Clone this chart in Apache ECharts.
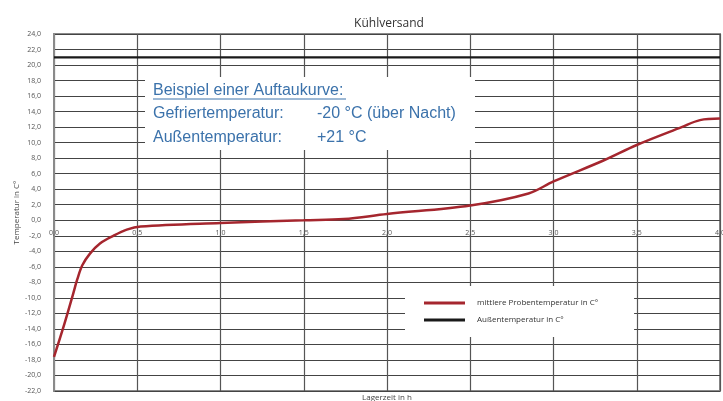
<!DOCTYPE html>
<html>
<head>
<meta charset="utf-8">
<script src="https://cdn.jsdelivr.net/npm/echarts@6/dist/echarts.min.js"></script>
<style>html,body{margin:0;padding:0;background:#fff}#c{width:723px;height:401px}</style>
</head>
<body>
<div id="c"></div>
<script>
// time in h
const probeTime = [0, 0.056, 0.112, 0.14, 0.17, 0.216, 0.276, 0.356, 0.437, 0.52, 1.0, 1.5, 1.74, 2.0, 2.5, 2.85, 3.0, 3.3, 3.5, 3.77, 3.88, 4.0];
// mean probe temperature in °C
const probeTemp = [-17.6, -13.8, -9.7, -7.6, -5.8, -4.3, -3.0, -2.0, -1.2, -0.8, -0.35, 0.0, 0.15, 0.8, 1.9, 3.45, 5.0, 7.7, 9.7, 12.0, 12.9, 13.1];
const outsideTime = [0, 4];
const outsideTemp = [21, 21];
const xTickLabels = ['0,0', '0,5', '1,0', '1,5', '2,0', '2,5', '3,0', '3,5', '4,0'];
const seriesNames = ['mittlere Probentemperatur in C°', 'Außentemperatur in C°'];
const noteLines = [
  ['Gefriertemperatur:', '-20 °C (über Nacht)'],
  ['Außentemperatur:', '+21 °C']
];
const noteTitle = 'Beispiel einer Auftaukurve:';

const chart = echarts.init(document.getElementById('c'));
const blue = '#3b72ab';
const font = '"Open Sans", "Noto Sans", sans-serif';
const noteFont = '16px "Liberation Sans", Arial, sans-serif';

const yMin = -22, yMax = 24;
const gridTop = 34, gridBottom = 10, chartH = 401;
const plotH = chartH - gridTop - gridBottom;
// distance from bottom of plot to the zero line (labels sit on the zero line)
const zeroOffset = plotH * (0 - yMin) / (yMax - yMin);

const graphicEls = [
  { type: 'rect', shape: { x: 145, y: 77, width: 330, height: 73 }, style: { fill: '#fff' }, z: 10 },
  { type: 'text', x: 153, y: 91, style: { text: noteTitle, font: noteFont, fill: blue, textVerticalAlign: 'middle' }, z: 11 },
  { type: 'line', shape: { x1: 153, y1: 99, x2: 346, y2: 99 }, style: { stroke: blue, lineWidth: 1 }, z: 11 }
];
noteLines.forEach((ln, i) => {
  const y = 114 + i * 24;
  graphicEls.push({ type: 'text', x: 153, y: y, style: { text: ln[0], font: noteFont, fill: blue, textVerticalAlign: 'middle' }, z: 11 });
  graphicEls.push({ type: 'text', x: 317, y: y, style: { text: ln[1], font: noteFont, fill: blue, textVerticalAlign: 'middle' }, z: 11 });
});

chart.setOption({
  animation: false,
  backgroundColor: '#fff',
  title: {
    text: 'Kühlversand', left: 384, top: 13, textAlign: 'center',
    textStyle: { fontFamily: font, fontSize: 12, fontWeight: 'normal', color: '#333' }
  },
  grid: { left: 54, right: 3, top: gridTop, bottom: gridBottom, outerBoundsMode: 'none', containLabel: false,
    show: true, borderColor: '#8a8a8a', borderWidth: 2, backgroundColor: 'transparent' },
  legend: {
    orient: 'vertical', left: 405, top: 286,
    backgroundColor: '#fff',
    padding: [13, 36, 13, 19],
    itemGap: 9,
    itemWidth: 41, itemHeight: 3,
    icon: 'rect',
    data: seriesNames,
    textStyle: { fontFamily: font, fontSize: 8, color: '#333', padding: [0, 0, 0, 7] },
    z: 10
  },
  xAxis: [
    {
      type: 'value', min: 0, max: 4, interval: 0.5,
      position: 'bottom', offset: -zeroOffset,
      axisLine: { show: false, onZero: false },
      axisTick: { show: false },
      axisLabel: { fontFamily: font, fontSize: 7, color: '#555', margin: 9,
        formatter: (v) => xTickLabels[Math.round(v / 0.5)] },
      splitLine: { show: true, lineStyle: { color: '#555', width: 1.2 } }
    },
    {
      type: 'value', min: 0, max: 4, interval: 0.5, position: 'bottom',
      name: 'Lagerzeit in h', nameLocation: 'middle', nameGap: 3,
      nameTextStyle: { fontFamily: font, fontSize: 8, color: '#444' },
      axisLine: { show: false, onZero: false },
      axisTick: { show: false },
      axisLabel: { show: false },
      splitLine: { show: false }
    }
  ],
  yAxis: {
    type: 'value', min: yMin, max: yMax, interval: 2,
    name: 'Temperatur in C°', nameLocation: 'middle', nameGap: 33, nameMoveOverlap: false,
    nameTextStyle: { fontFamily: font, fontSize: 8, color: '#444' },
    axisLine: { show: true, onZero: false, lineStyle: { color: '#8a8a8a', width: 2 } },
    axisTick: { show: false },
    axisLabel: { fontFamily: font, fontSize: 7, color: '#555', margin: 13,
      formatter: (v) => v.toFixed(1).replace('.', ',') },
    splitLine: { show: true, lineStyle: { color: '#444', width: 1.2 } }
  },
  graphic: graphicEls,
  series: [
    {
      name: seriesNames[0], type: 'line', smooth: 0.35, showSymbol: false, symbol: 'none',
      color: '#a5262e',
      lineStyle: { color: '#a5262e', width: 2.5 },
      data: probeTime.map((t, i) => [t, probeTemp[i]]),
      z: 5
    },
    {
      name: seriesNames[1], type: 'line', showSymbol: false, symbol: 'none',
      color: '#1a1a1a',
      lineStyle: { color: '#1a1a1a', width: 2.2 },
      data: outsideTime.map((t, i) => [t, outsideTemp[i]]),
      z: 5
    }
  ]
});
</script>
</body>
</html>
